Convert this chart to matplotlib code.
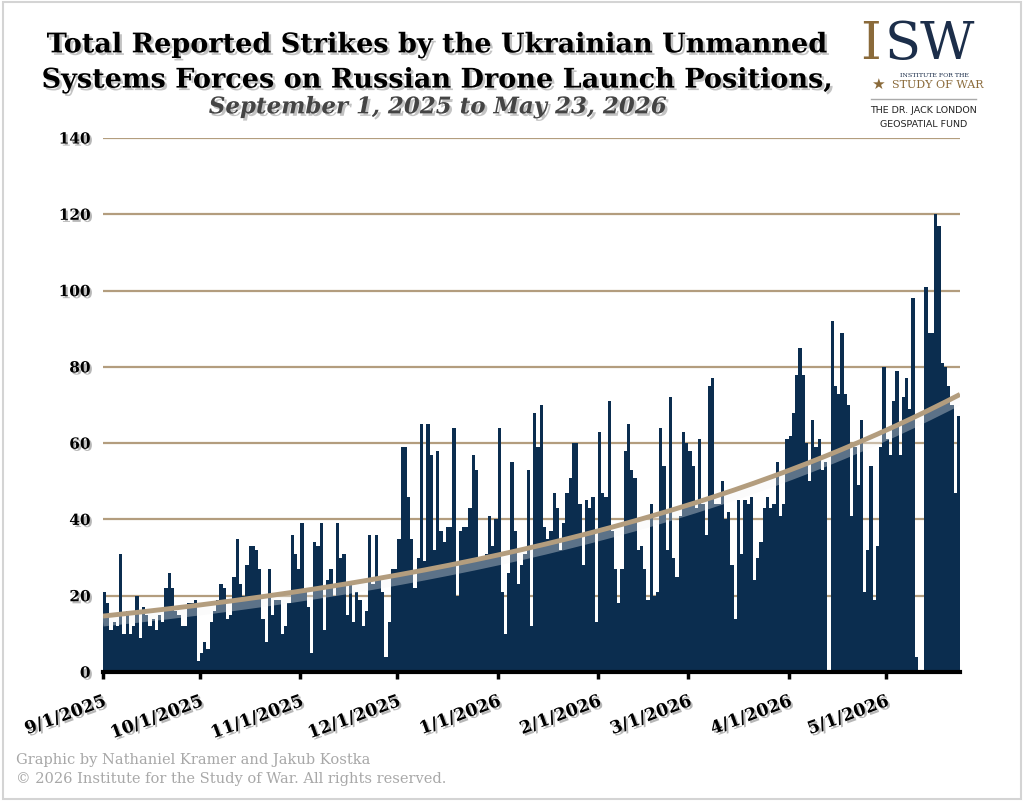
import numpy as np
import matplotlib
matplotlib.use("Agg")
import matplotlib.pyplot as plt
import matplotlib.patheffects as pe
from matplotlib.patches import Rectangle

# daily reported strikes (9/1/2025 - 5/23/2026)
sep = [21, 18, 11, 13, 12, 31, 10, 16, 10, 12, 20, 9, 17, 15, 12,
       14, 11, 15, 13, 22, 26, 22, 16, 15, 12, 12, 18, 18, 19, 3]
octo = [5, 8, 6, 13, 16, 19, 23, 22, 14, 15, 25, 35, 23, 20, 28, 33,
        33, 32, 27, 14, 8, 27, 15, 19, 19, 10, 12, 18, 36, 31, 27]
nov = [39, 21, 17, 5, 34, 33, 39, 11, 24, 27, 20, 39, 30, 31, 15,
       23, 13, 21, 19, 12, 16, 36, 23, 36, 24, 21, 4, 13, 27, 27]
dec = [35, 59, 59, 46, 35, 22, 30, 65, 29, 65, 57, 32, 58, 37, 34, 38,
       38, 64, 20, 37, 38, 38, 43, 57, 53, 29, 30, 31, 41, 33, 40]
jan = [64, 21, 10, 26, 55, 37, 23, 28, 31, 53, 12, 68, 59, 70, 38, 35,
       37, 47, 43, 32, 39, 47, 51, 60, 60, 44, 28, 45, 43, 46, 13]
feb = [63, 47, 46, 71, 37, 27, 18, 27, 58, 65, 53, 51, 32, 33,
       27, 19, 44, 20, 21, 64, 54, 32, 72, 30, 25, 41, 63, 60]
mar = [58, 54, 43, 61, 44, 36, 75, 77, 44, 44, 50, 40, 42, 28, 14, 45,
       31, 45, 44, 46, 24, 30, 34, 43, 46, 43, 44, 55, 41, 44, 61]
apr = [62, 68, 78, 85, 78, 60, 50, 66, 59, 61, 53, 55, 0, 92, 75,
       73, 89, 73, 70, 41, 59, 49, 66, 21, 32, 54, 19, 33, 59, 80]
may = [61, 57, 71, 79, 57, 72, 77, 69, 98, 4, 0, 0, 101, 89, 89,
       120, 117, 81, 80, 75, 70, 47, 67]

month_labels = ["9/1/2025", "10/1/2025", "11/1/2025", "12/1/2025", "1/1/2026",
                "2/1/2026", "3/1/2026", "4/1/2026", "5/1/2026"]
y_ticks = [0, 20, 40, 60, 80, 100, 120, 140]

months = [sep, octo, nov, dec, jan, feb, mar, apr, may]
strikes = np.array(sum(months, []), dtype=float)
days = np.arange(len(strikes))
month_starts = np.concatenate([[0], np.cumsum([len(m) for m in months])[:-1]])

navy = "#0b2d4f"
tan = "#b39d7e"
serif = ["DejaVu Serif"]

fig = plt.figure(figsize=(10.24, 8.01), dpi=100)
fig.patch.set_facecolor("white")
fig.patches.append(Rectangle((0.003, 0.003), 0.994, 0.994, transform=fig.transFigure,
                             fill=False, edgecolor="#d4d4d4", linewidth=1.5))

ax = fig.add_axes([0.1006, 0.161, 0.8369, 0.6667])
ax.bar(days, strikes, width=1.0, align="edge", color=navy, zorder=2)

# exponential trend line (log-space fit, zero days left out)
pos = strikes > 0
b, a = np.polyfit(days[pos] + 0.5, np.log(strikes[pos]), 1)
xs = np.linspace(0, len(strikes), 300)
ax.plot(xs, np.exp(a + b * xs), color=tan, linewidth=3.5, zorder=4,
        solid_capstyle="butt",
        path_effects=[pe.SimpleLineShadow(offset=(0, -4), shadow_color="#f4f4f4", alpha=0.35,
                                          linewidth=7),
                      pe.Normal()])

ax.set_xlim(0, len(strikes))
ax.set_ylim(0, 140)
ax.set_yticks(y_ticks)
for v in y_ticks[1:]:
    ax.axhline(v, color=tan, linewidth=1.6, zorder=1)

for s in ["top", "right", "left"]:
    ax.spines[s].set_visible(False)
ax.spines["bottom"].set_linewidth(3)
ax.spines["bottom"].set_zorder(5)

shadow = [pe.withSimplePatchShadow(offset=(1.5, -1.5), shadow_rgbFace="#888888", alpha=0.6)]

ax.set_xticks(month_starts)
ax.set_xticklabels(month_labels, rotation=20, ha="right", va="top",
                   rotation_mode="anchor", family=serif, fontweight="bold",
                   fontsize=12.5, path_effects=shadow)
ax.tick_params(axis="x", length=5, width=2.5, color="black", pad=10)
ax.tick_params(axis="y", length=0, pad=9)
for lab in ax.get_yticklabels():
    lab.set_family(serif)
    lab.set_fontweight("bold")
    lab.set_fontsize(11)
    lab.set_path_effects(shadow)

# titles
title_shadow = [pe.withSimplePatchShadow(offset=(1.8, -1.8), shadow_rgbFace="#888888", alpha=0.5)]
fig.text(0.427, 0.944, "Total Reported Strikes by the Ukrainian Unmanned", ha="center",
         va="center", family=serif, fontweight="bold", fontsize=19.5, path_effects=title_shadow)
fig.text(0.427, 0.9, "Systems Forces on Russian Drone Launch Positions,", ha="center",
         va="center", family=serif, fontweight="bold", fontsize=19.5, path_effects=title_shadow)
fig.text(0.427, 0.866, "September 1, 2025 to May 23, 2026", ha="center", va="center",
         family=serif, fontweight="bold", style="italic", fontsize=16.5, color="#444444",
         path_effects=title_shadow)

# logo block
fig.text(0.84, 0.944, "I", ha="left", va="center", family=serif, fontsize=38,
         color="#8a6a3a")
fig.text(0.864, 0.944, "SW", ha="left", va="center", family=serif, fontsize=38,
         color="#1c2e4a")
fig.text(0.879, 0.906, "INSTITUTE FOR THE", ha="left", va="center", family=serif,
         fontsize=4.5, color="#1c2e4a")
fig.text(0.851, 0.894, "\u2605", ha="left", va="center", family=["DejaVu Sans"],
         fontsize=11, color="#8a6a3a")
fig.text(0.871, 0.894, "STUDY OF WAR", ha="left", va="center", family=serif,
         fontsize=8, color="#8a6a3a")
fig.add_artist(plt.Line2D([0.851, 0.953], [0.877, 0.877], color="#aaaaaa", linewidth=1))
fig.text(0.902, 0.862, "THE DR. JACK LONDON", ha="center", va="center", family=["DejaVu Sans"],
         fontsize=6.8, color="#222222")
fig.text(0.902, 0.845, "GEOSPATIAL FUND", ha="center", va="center", family=["DejaVu Sans"],
         fontsize=6.8, color="#222222")

# footer
fig.text(0.016, 0.051, "Graphic by Nathaniel Kramer and Jakub Kostka", ha="left",
         va="center", family=serif, fontsize=10.5, color="#a8a8a8")
fig.text(0.016, 0.028, "\u00a9 2026 Institute for the Study of War. All rights reserved.",
         ha="left", va="center", family=serif, fontsize=10.5, color="#a8a8a8")

fig.savefig("out.png", dpi=100, facecolor="white")
